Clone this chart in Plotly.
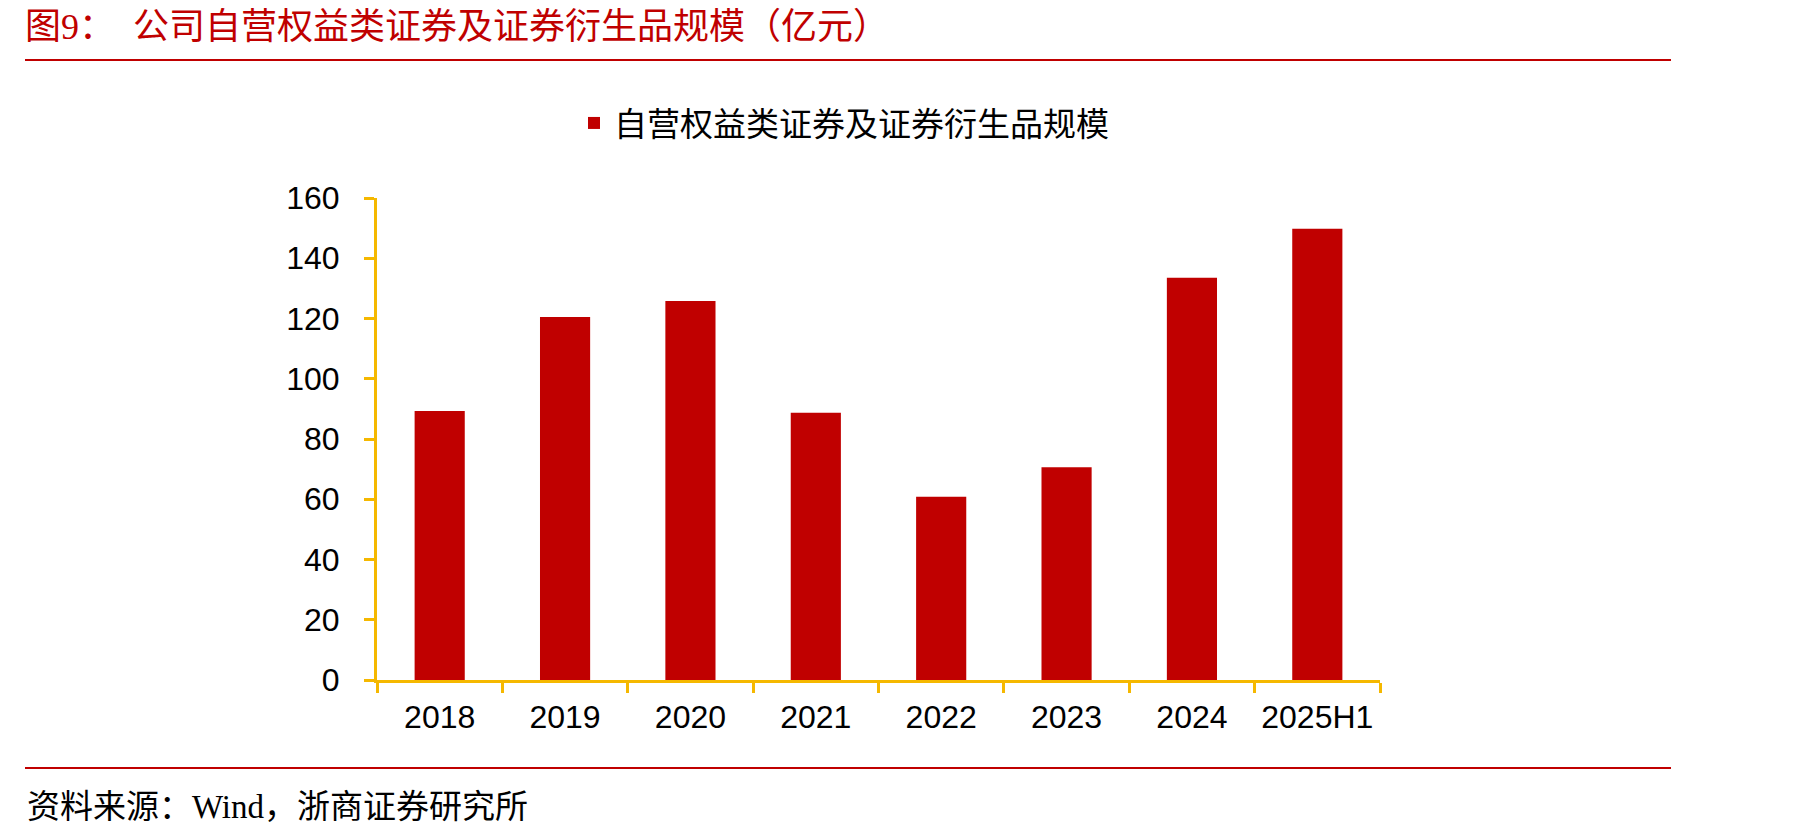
import plotly.graph_objects as go

categories = ["2018", "2019", "2020", "2021", "2022", "2023", "2024", "2025H1"]
values = [89.3, 120.5, 125.8, 88.7, 60.8, 70.6, 133.5, 149.8]
series_name = "自营权益类证券及证券衍生品规模"
y_ticks = [0, 20, 40, 60, 80, 100, 120, 140, 160]
title_text = "图9：  公司自营权益类证券及证券衍生品规模（亿元）"
source_text = "资料来源：Wind，浙商证券研究所"

RED = "#C00000"
GOLD = "#F5B800"

W, H = 1798, 838
L, R, T, B = 377, 1380, 198, 680
pw, ph = R - L, B - T

def px(x):
    return (x - L) / pw

def py(y):
    return (B - y) / ph

fig = go.Figure()
fig.add_trace(go.Bar(
    x=categories, y=values, name=series_name,
    marker=dict(color=RED, line=dict(width=0)),
    showlegend=True,
))

fig.update_layout(
    width=W, height=H,
    margin=dict(l=L, r=W - R, t=T, b=H - B, pad=0),
    paper_bgcolor="white", plot_bgcolor="white",
    bargap=0.6,
    showlegend=True,
    legend=dict(
        x=px(574), y=py(123), xanchor="left", yanchor="middle",
        orientation="h",
        font=dict(family="Noto Sans CJK SC", size=33, color="#000000"),
        bgcolor="rgba(0,0,0,0)",
    ),
    title=dict(
        text=title_text, xref="container", yref="container",
        x=25 / W, y=1 - 26 / H, xanchor="left", yanchor="middle",
        font=dict(family="Liberation Serif, Noto Sans CJK SC", size=36, color=RED),
    ),
    xaxis=dict(
        type="category",
        showline=True, linecolor=GOLD, linewidth=3,
        ticks="outside", tickcolor=GOLD, tickwidth=3, ticklen=10,
        tickson="boundaries", tickangle=0,
        showgrid=False, zeroline=False,
        tickfont=dict(family="Liberation Sans, Arial", size=32, color="#000000"),
        ticklabelstandoff=7,
    ),
    yaxis=dict(
        range=[0, 160], tickvals=y_ticks,
        showline=True, linecolor=GOLD, linewidth=3,
        ticks="outside", tickcolor=GOLD, tickwidth=3, ticklen=10,
        showgrid=False, zeroline=False,
        tickfont=dict(family="Liberation Sans, Arial", size=32, color="#000000"),
        ticklabelstandoff=18,
    ),
    shapes=[
        dict(type="line", xref="paper", yref="paper",
             x0=px(25), x1=px(1671), y0=py(60), y1=py(60),
             line=dict(color=RED, width=2)),
        dict(type="line", xref="paper", yref="paper",
             x0=px(25), x1=px(1671), y0=py(768), y1=py(768),
             line=dict(color=RED, width=2)),
    ],
    annotations=[
        dict(text=source_text, xref="paper", yref="paper",
             x=px(25), y=py(807), xanchor="left", yanchor="middle",
             showarrow=False,
             font=dict(family="Liberation Serif, Noto Sans CJK SC", size=33, color="#000000")),
    ],
)

fig.write_html("out.html")
